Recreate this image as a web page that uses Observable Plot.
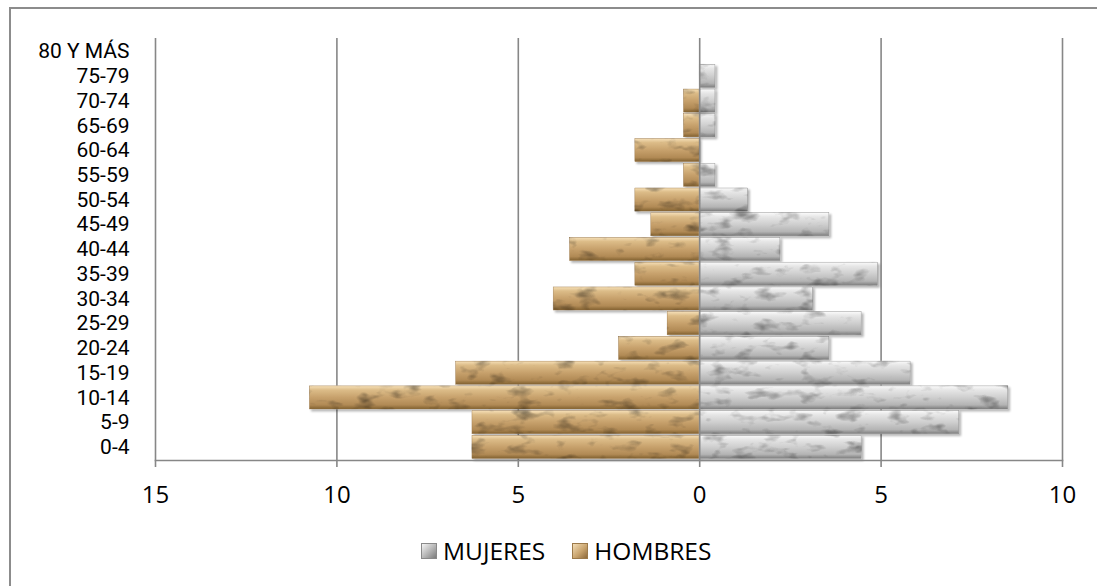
<!DOCTYPE html>
<html>
<head>
<meta charset="utf-8">
<script src="https://cdn.jsdelivr.net/npm/d3@7"></script>
<script src="https://cdn.jsdelivr.net/npm/@observablehq/plot@0.6"></script>
<style>
  html, body { margin: 0; padding: 0; background: #fff; }
  body { width: 1097px; height: 586px; position: relative; overflow: hidden;
         font-family: "Open Sans", sans-serif; }
  #frame { position: absolute; left: 9px; top: 7px; width: 1200px; height: 700px;
           border-left: 2px solid #8c8c8c; border-top: 2px solid #8c8c8c; box-sizing: border-box; }
  #chart { position: absolute; left: 0; top: 0; }
  #legend { position: absolute; left: 421px; top: 534px; display: flex; align-items: center;
            font-size: 24.5px; color: #000; white-space: nowrap; }
  .sw { display: inline-block; width: 16px; height: 16px; margin-right: 6px; box-sizing: border-box; }
  .sw.m { background: linear-gradient(135deg, #f4f4f4, #b4b4b4 55%, #7c7c7c); border: 1px solid #8a8a8a; }
  .sw.h { background: linear-gradient(135deg, #f3ddb6, #c9a46e 55%, #8e6a3a); border: 1px solid #9c7a4a; }
  .item { display: flex; align-items: center; margin-right: 27px; }
</style>
</head>
<body>
<div id="frame"></div>
<div id="chart"></div>
<div id="legend">
  <span class="item"><span class="sw m"></span>MUJERES</span>
  <span class="item"><span class="sw h"></span>HOMBRES</span>
</div>
<script>
const ages = ["0-4","5-9","10-14","15-19","20-24","25-29","30-34","35-39","40-44","45-49","50-54","55-59","60-64","65-69","70-74","75-79","80 Y MÁS"];
const mujeres = [4.48, 7.17, 8.52, 5.83, 3.59, 4.48, 3.14, 4.93, 2.24, 3.59, 1.35, 0.45, 0, 0.45, 0.45, 0.45, 0];
const hombres = [6.28, 6.28, 10.76, 6.73, 2.24, 0.90, 4.04, 1.79, 3.59, 1.35, 1.79, 0.45, 1.79, 0.45, 0.45, 0, 0];
const xTicks = [-15, -10, -5, 0, 5, 10];

const women = ages.map((a, i) => ({age: a, v: mujeres[i]})).filter(d => d.v > 0);
const men = ages.map((a, i) => ({age: a, v: hombres[i]})).filter(d => d.v > 0);

const plot = Plot.plot({
  width: 1097,
  height: 520,
  marginTop: 38,
  marginBottom: 60,
  marginLeft: 155,
  marginRight: 35,
  style: {fontFamily: '"Open Sans", sans-serif', fontSize: "24px", color: "#000", background: "transparent"},
  x: {domain: [-15, 10], ticks: xTicks, tickFormat: d => Math.abs(d), label: null},
  y: {domain: ages.slice().reverse(), padding: 0.06, round: false, label: null},
  marks: [
    Plot.ruleX([-15, -10, -5, 5, 10], {stroke: "#878787", strokeWidth: 1.6}),
    Plot.barX(men, {x1: d => -d.v, x2: 0, y: "age", fill: "url(#gold)", stroke: "#9a7646", strokeWidth: 0.6, insetLeft: 0.5}),
    Plot.barX(women, {x1: 0, x2: "v", y: "age", fill: "url(#silver)", stroke: "#8a8a8a", strokeWidth: 0.6, insetRight: 0.5}),
    Plot.ruleX([0], {stroke: "#878787", strokeWidth: 1.6}),
    Plot.frame({anchor: "bottom", stroke: "#878787", strokeWidth: 1.6}),
    Plot.axisX({ticks: xTicks, tickFormat: d => Math.abs(d), tickSize: 7, tickPadding: 18, stroke: "#878787", strokeWidth: 1.6, label: null}),
    Plot.axisY({tickSize: 0, tickPadding: 26, label: null, fontSize: 21, fontFamily: "Roboto"})
  ]
});

const defs = `
<defs>
  <linearGradient id="gold" x1="0" y1="0" x2="0" y2="1">
    <stop offset="0" stop-color="#f6e0b8"/>
    <stop offset="0.18" stop-color="#dcbc88"/>
    <stop offset="0.5" stop-color="#c7a16c"/>
    <stop offset="0.82" stop-color="#b18a55"/>
    <stop offset="1" stop-color="#80602f"/>
  </linearGradient>
  <linearGradient id="silver" x1="0" y1="0" x2="0" y2="1">
    <stop offset="0" stop-color="#fbfbfb"/>
    <stop offset="0.18" stop-color="#e6e6e6"/>
    <stop offset="0.5" stop-color="#cfcfcf"/>
    <stop offset="0.82" stop-color="#b4b4b4"/>
    <stop offset="1" stop-color="#7c7c7c"/>
  </linearGradient>
  <filter id="tex" x="-5%" y="-20%" width="115%" height="160%" color-interpolation-filters="sRGB">
    <feTurbulence type="fractalNoise" baseFrequency="0.045 0.09" numOctaves="3" seed="7" result="n"/>
    <feColorMatrix in="n" type="matrix" values="0.33 0.33 0.33 0 0  0.33 0.33 0.33 0 0  0.33 0.33 0.33 0 0  0 0 0 0 1" result="g"/>
    <feComponentTransfer in="g" result="g2">
      <feFuncR type="linear" slope="1.8" intercept="0.15"/>
      <feFuncG type="linear" slope="1.8" intercept="0.15"/>
      <feFuncB type="linear" slope="1.8" intercept="0.15"/>
    </feComponentTransfer>
    <feBlend in="SourceGraphic" in2="g2" mode="multiply" result="b"/>
    <feComposite in="b" in2="SourceAlpha" operator="in" result="t"/>
    <feGaussianBlur in="SourceAlpha" stdDeviation="1.2"/>
    <feOffset dx="1.5" dy="2" result="sh"/>
    <feComponentTransfer in="sh" result="sh2"><feFuncA type="linear" slope="0.3"/></feComponentTransfer>
    <feMerge><feMergeNode in="sh2"/><feMergeNode in="t"/></feMerge>
  </filter>
</defs>`;
plot.insertAdjacentHTML("afterbegin", defs);
plot.querySelectorAll('g[aria-label="bar"]').forEach(g => g.setAttribute("filter", "url(#tex)"));
document.getElementById("chart").appendChild(plot);
</script>
</body>
</html>
